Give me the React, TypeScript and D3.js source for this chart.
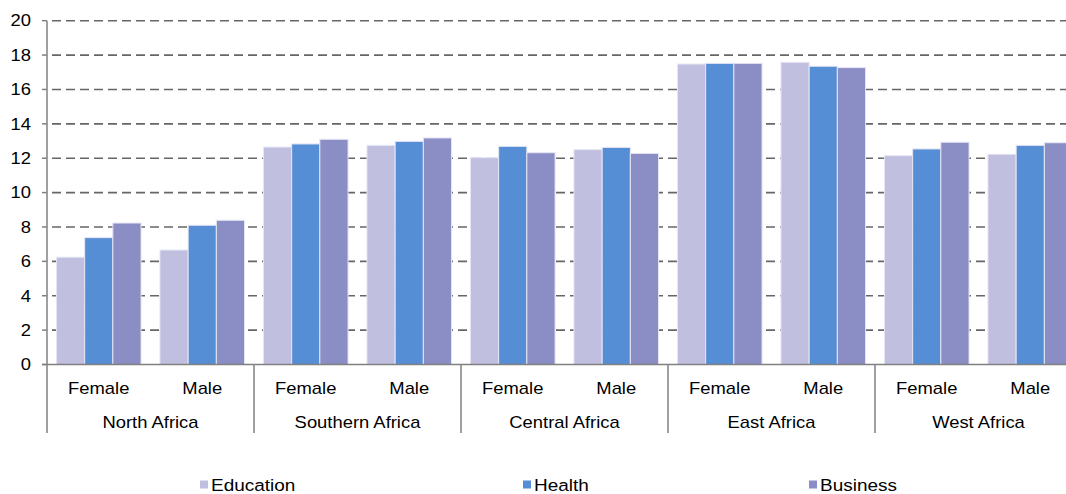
import { useRef, useEffect } from "react";
import * as d3 from "d3";

// categories
const regions = ["North Africa", "Southern Africa", "Central Africa", "East Africa", "West Africa"];
const genders = ["Female", "Male"];
const seriesNames = ["Education", "Health", "Business"];
const seriesColors = ["#c0bfdf", "#558ed5", "#8b8dc5"];
const yTicks = [0, 2, 4, 6, 8, 10, 12, 14, 16, 18, 20];

// values per region, [Female, Male]
const education = [
  [6.24, 6.66],
  [12.65, 12.75],
  [12.03, 12.5],
  [17.48, 17.58],
  [12.15, 12.23],
];
const health = [
  [7.38, 8.1],
  [12.83, 12.98],
  [12.69, 12.63],
  [17.52, 17.35],
  [12.54, 12.75],
];
const business = [
  [8.23, 8.39],
  [13.1, 13.18],
  [12.32, 12.28],
  [17.52, 17.27],
  [12.93, 12.9],
];
const seriesValues = [education, health, business];

const W = 1066;
const H = 494;
const FONT = "'Liberation Sans', Arial, sans-serif";
const SX = 1.15; // the reference text is a bit wide

function draw(ref: SVGSVGElement | null) {
  const svg = d3.select(ref);
  svg.selectAll("*").remove();

  const left = 47;
  const regionW = 207;
  const y0 = 364.5;
  const yTop = 20.7;
  const axisBottom = 433;

  const x = d3
    .scaleBand()
    .domain(regions)
    .range([left, left + regionW * regions.length])
    .padding(0);
  const xSub = d3.scaleBand().domain(genders).range([0, x.bandwidth()]).padding(0);
  const xSer = d3
    .scaleBand()
    .domain(seriesNames)
    .range([0, xSub.bandwidth()])
    .paddingInner(0)
    .paddingOuter(0.335);
  const y = d3.scaleLinear().domain([0, 20]).range([y0, yTop]);

  const g = svg.append("g");

  // gridlines
  g.selectAll("line.grid")
    .data(yTicks.filter((t) => t > 0))
    .enter()
    .append("line")
    .attr("x1", left)
    .attr("x2", W + 30)
    .attr("y1", (d) => y(d))
    .attr("y2", (d) => y(d))
    .attr("stroke", "#666")
    .attr("stroke-width", 1.6)
    .attr("stroke-dasharray", "9,5")
    .attr("stroke-dashoffset", -5);

  // left ticks
  g.selectAll("line.tick")
    .data(yTicks)
    .enter()
    .append("line")
    .attr("x1", left - 5)
    .attr("x2", left)
    .attr("y1", (d) => y(d))
    .attr("y2", (d) => y(d))
    .attr("stroke", "#808080")
    .attr("stroke-width", 1.5);

  // tick labels
  yTicks.forEach((t) => {
    g.append("g")
      .attr("transform", `translate(31,${y(t)}) scale(${SX},1)`)
      .append("text")
      .attr("text-anchor", "end")
      .attr("dy", "0.36em")
      .attr("font-family", FONT)
      .attr("font-size", 16)
      .attr("fill", "#000")
      .text(t);
  });

  // bars
  regions.forEach((r, ri) => {
    genders.forEach((gd, gi) => {
      seriesNames.forEach((s, si) => {
        const v = seriesValues[si][ri][gi];
        g.append("rect")
          .attr("x", (x(r) as number) + (xSub(gd) as number) + (xSer(s) as number))
          .attr("y", y(v))
          .attr("width", xSer.bandwidth())
          .attr("height", y0 - y(v))
          .attr("fill", seriesColors[si])
          .attr("stroke", "#e6e6f4")
          .attr("stroke-width", 1);
      });
      g.append("g")
        .attr(
          "transform",
          `translate(${(x(r) as number) + (xSub(gd) as number) + xSub.bandwidth() / 2},394) scale(${SX},1)`
        )
        .append("text")
        .attr("text-anchor", "middle")
        .attr("font-family", FONT)
        .attr("font-size", 16)
        .text(gd);
    });
    g.append("g")
      .attr("transform", `translate(${(x(r) as number) + x.bandwidth() / 2},427.5) scale(${SX},1)`)
      .append("text")
      .attr("text-anchor", "middle")
      .attr("font-family", FONT)
      .attr("font-size", 16)
      .text(r);
  });

  // axes
  g.append("line")
    .attr("x1", left - 5)
    .attr("x2", W + 30)
    .attr("y1", y0)
    .attr("y2", y0)
    .attr("stroke", "#808080")
    .attr("stroke-width", 1.5);
  g.append("line")
    .attr("x1", left)
    .attr("x2", left)
    .attr("y1", yTop)
    .attr("y2", axisBottom)
    .attr("stroke", "#808080")
    .attr("stroke-width", 1.5);
  regions.forEach((r, ri) => {
    if (ri === 0) return;
    g.append("line")
      .attr("x1", x(r) as number)
      .attr("x2", x(r) as number)
      .attr("y1", y0)
      .attr("y2", axisBottom)
      .attr("stroke", "#808080")
      .attr("stroke-width", 1.5);
  });

  // legend
  const legendX = [200, 523, 809];
  seriesNames.forEach((s, i) => {
    g.append("rect")
      .attr("x", legendX[i])
      .attr("y", 480.5)
      .attr("width", 8)
      .attr("height", 8)
      .attr("fill", seriesColors[i]);
    g.append("g")
      .attr("transform", `translate(${legendX[i] + 11},491) scale(${SX},1)`)
      .append("text")
      .attr("font-family", FONT)
      .attr("font-size", 16.5)
      .text(s);
  });
}

export default function App() {
  const ref = useRef<SVGSVGElement>(null);

  useEffect(() => {
    document.body.style.margin = "0";
    draw(ref.current);
  }, []);

  return (
    <svg
      ref={ref}
      width={W}
      height={H}
      style={{ display: "block", background: "#fff", overflow: "hidden" }}
    ></svg>
  );
}
